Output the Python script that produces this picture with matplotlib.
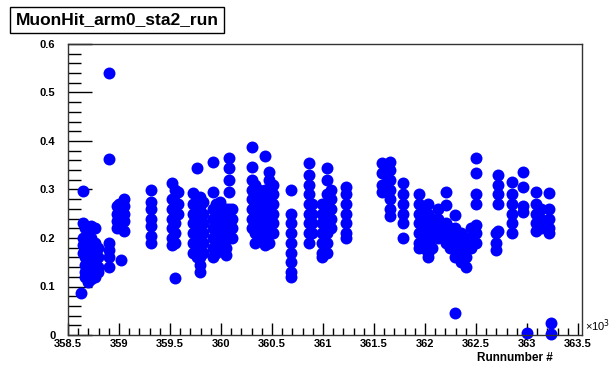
import matplotlib
matplotlib.use('Agg')
import matplotlib.pyplot as plt
from matplotlib.ticker import MultipleLocator, FormatStrFormatter

# run number (x10^3) -> list of MuonHit values
columns = [
    (358.63, [0.087]),
    (358.65, [0.297, 0.23, 0.20, 0.185, 0.17]),
    (358.67, [0.22, 0.19, 0.175, 0.16, 0.145, 0.13, 0.12]),
    (358.70, [0.21, 0.19, 0.17, 0.155, 0.14, 0.125, 0.11]),
    (358.73, [0.225, 0.20, 0.18, 0.16, 0.14, 0.125, 0.115]),
    (358.76, [0.22, 0.19, 0.17, 0.15, 0.13, 0.12]),
    (358.79, [0.18, 0.16, 0.14, 0.13]),
    (358.90, [0.54, 0.363, 0.19, 0.175, 0.16, 0.14]),
    (358.98, [0.265, 0.25, 0.235, 0.22]),
    (359.00, [0.27, 0.245, 0.225]),
    (359.02, [0.155]),
    (359.05, [0.28, 0.265, 0.25, 0.235, 0.215]),
    (359.31, [0.30, 0.275, 0.26, 0.24, 0.225, 0.205, 0.19]),
    (359.52, [0.313, 0.28, 0.26, 0.24, 0.22, 0.20, 0.185]),
    (359.55, [0.30, 0.275, 0.25, 0.23, 0.21, 0.19, 0.117]),
    (359.58, [0.295, 0.27, 0.25]),
    (359.73, [0.293, 0.27, 0.25, 0.23, 0.21, 0.19, 0.17]),
    (359.76, [0.345, 0.26, 0.24, 0.22, 0.20, 0.18, 0.16]),
    (359.79, [0.285, 0.265, 0.24, 0.22, 0.20, 0.18, 0.16, 0.145, 0.13]),
    (359.82, [0.275, 0.25, 0.23, 0.21, 0.19, 0.17]),
    (359.92, [0.357, 0.295, 0.26, 0.24, 0.22, 0.20, 0.18, 0.16]),
    (359.95, [0.27, 0.25, 0.23, 0.21, 0.19, 0.17]),
    (359.99, [0.275, 0.25, 0.23, 0.21, 0.19]),
    (360.02, [0.24, 0.22, 0.20, 0.18]),
    (360.05, [0.26, 0.24, 0.22, 0.20, 0.18, 0.165]),
    (360.08, [0.365, 0.345, 0.32, 0.295, 0.26, 0.24, 0.22, 0.20]),
    (360.11, [0.26, 0.24, 0.22, 0.20]),
    (360.30, [0.388, 0.346, 0.32, 0.30, 0.28, 0.26, 0.24, 0.22]),
    (360.33, [0.31, 0.29, 0.27, 0.25, 0.23, 0.21, 0.19]),
    (360.37, [0.30, 0.28, 0.26, 0.24, 0.22, 0.20]),
    (360.43, [0.369, 0.30, 0.28, 0.26, 0.24, 0.22, 0.20, 0.185]),
    (360.47, [0.336, 0.32, 0.29, 0.27, 0.25, 0.23, 0.21, 0.19]),
    (360.51, [0.31, 0.29, 0.27, 0.25, 0.23, 0.21]),
    (360.69, [0.30, 0.25, 0.23, 0.21, 0.19, 0.17, 0.15, 0.13, 0.12]),
    (360.86, [0.355, 0.33, 0.31, 0.29, 0.27, 0.25, 0.23, 0.21, 0.19]),
    (360.89, [0.27, 0.25, 0.23, 0.21]),
    (360.99, [0.27, 0.25, 0.23, 0.21, 0.19, 0.17, 0.16]),
    (361.04, [0.345, 0.32, 0.29, 0.27, 0.25, 0.23, 0.21, 0.19, 0.17]),
    (361.08, [0.30, 0.28, 0.26, 0.24, 0.22]),
    (361.23, [0.305, 0.29, 0.27, 0.25, 0.23, 0.21, 0.20]),
    (361.58, [0.355, 0.335, 0.31, 0.295]),
    (361.62, [0.33, 0.31]),
    (361.66, [0.357, 0.34, 0.32, 0.30, 0.28, 0.26, 0.245]),
    (361.78, [0.313, 0.29, 0.27, 0.25, 0.23, 0.20]),
    (361.94, [0.29, 0.27, 0.25, 0.23, 0.21, 0.19, 0.18]),
    (361.99, [0.26, 0.24, 0.22, 0.20, 0.18]),
    (362.03, [0.27, 0.25, 0.23, 0.21, 0.19, 0.17, 0.16]),
    (362.07, [0.24, 0.22, 0.20, 0.18]),
    (362.13, [0.26, 0.24, 0.22, 0.20]),
    (362.21, [0.295, 0.268, 0.23, 0.21, 0.19]),
    (362.25, [0.22, 0.20, 0.18]),
    (362.29, [0.247, 0.22, 0.20, 0.18, 0.16, 0.045]),
    (362.35, [0.21, 0.19, 0.17, 0.15]),
    (362.40, [0.20, 0.18, 0.16, 0.14]),
    (362.45, [0.22, 0.20, 0.18]),
    (362.50, [0.365, 0.334, 0.29, 0.27, 0.227, 0.21, 0.19]),
    (362.70, [0.21, 0.19, 0.175]),
    (362.72, [0.33, 0.31, 0.29, 0.27, 0.215]),
    (362.85, [0.315, 0.29, 0.27, 0.25, 0.23, 0.21]),
    (362.96, [0.337, 0.305, 0.265, 0.253]),
    (363.00, [0.005]),
    (363.09, [0.295, 0.27, 0.25, 0.23, 0.215]),
    (363.14, [0.26, 0.24, 0.22]),
    (363.22, [0.293, 0.26, 0.24, 0.22, 0.21]),
    (363.24, [0.025, 0.003]),
]

runs = []
hits = []
for r, vals in columns:
    for v in vals:
        runs.append(r)
        hits.append(v)

plt.rcParams['font.family'] = ['Liberation Sans', 'DejaVu Sans']

fig = plt.figure(figsize=(6.09, 3.66), dpi=100)
ax = fig.add_axes([68/609, 1-335/366, (582-68)/609, (335-44)/366])

ax.plot(runs, hits, 'o', color='#0000ff', ms=8.6, mew=0, clip_on=False)

ax.set_xlim(358.5, 363.54)
ax.set_ylim(0, 0.6)
ax.xaxis.set_major_locator(MultipleLocator(0.5))
ax.xaxis.set_minor_locator(MultipleLocator(0.1))
ax.yaxis.set_major_locator(MultipleLocator(0.1))
ax.yaxis.set_minor_locator(MultipleLocator(0.02))
ax.xaxis.set_major_formatter(FormatStrFormatter('%g'))
ax.yaxis.set_major_formatter(FormatStrFormatter('%g'))

ax.tick_params(axis='both', which='both', direction='in', top=False, right=False,
               labelsize=8, width=1, colors='black')
ax.tick_params(axis='y', which='major', length=17, pad=9)
ax.tick_params(axis='y', which='minor', length=9)
ax.tick_params(axis='x', which='major', length=9, pad=3)
ax.tick_params(axis='x', which='minor', length=5)
for lab in ax.get_xticklabels() + ax.get_yticklabels():
    lab.set_fontweight('bold')
for s in ax.spines.values():
    s.set_linewidth(1)
    s.set_color('#333333')

fig.text(585/609, 1-326/366, '×10$^{3}$', fontsize=8, ha='left', va='center')
fig.text(515/609, 1-358/366, 'Runnumber #', fontsize=8.5, fontweight='bold',
         ha='center', va='center')

fig.text(117/609, 1-20/366, 'MuonHit_arm0_sta2_run', fontsize=12.5, fontweight='bold',
         ha='center', va='center',
         bbox=dict(boxstyle='square,pad=0.3', fc='white', ec='black', lw=1))

fig.savefig('out.png', dpi=100)
